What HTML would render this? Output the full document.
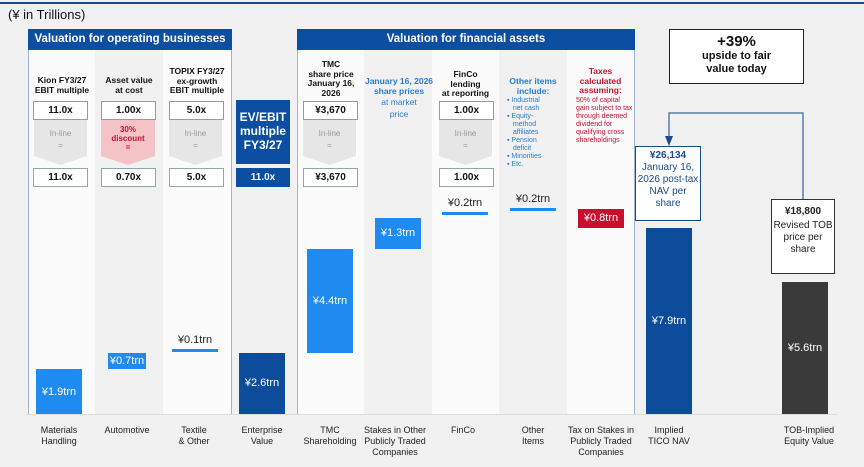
<!DOCTYPE html>
<html><head><meta charset="utf-8">
<style>
*{box-sizing:border-box;margin:0;padding:0}
body{width:864px;height:467px;background:#f1f1f1;font-family:"Liberation Sans",sans-serif;position:relative;overflow:hidden}
.a{position:absolute}
.hdr{background:#0b4ea2;color:#fff;font-weight:bold;font-size:11.5px;text-align:center;line-height:21px}
.col{position:absolute;top:50px;height:364px}
.t{position:absolute;text-align:center;font-size:8.5px;font-weight:bold;line-height:9.5px;color:#111}
.box{position:absolute;background:#fff;border:1px solid #999;font-size:10px;font-weight:bold;text-align:center;line-height:17px;height:19px;color:#111}
.chev{position:absolute;background:#e6e6e6;clip-path:polygon(0 0,100% 0,100% 80%,50% 100%,0 80%);text-align:center;font-size:8px;color:#999;padding-top:8px;line-height:12px}
.lbl{position:absolute;top:425px;font-size:9px;text-align:center;line-height:11px;color:#222;width:70px}
.vl{position:absolute;top:50px;width:1px;height:364px;background:#9db4d4}
</style></head><body>
<div class="a" style="left:0;top:2px;width:864px;height:2px;background:#1b4a8a"></div>
<div class="a" style="left:8px;top:7px;font-size:13px;color:#111">(¥ in Trillions)</div>

<div class="col" style="left:29px;width:66px;background:#fbfbfb"></div>
<div class="col" style="left:95px;width:68px;background:#f1f1f1"></div>
<div class="col" style="left:163px;width:68px;background:#fbfbfb"></div>
<div class="col" style="left:298px;width:66px;background:#fbfbfb"></div>
<div class="col" style="left:364px;width:68px;background:#f1f1f1"></div>
<div class="col" style="left:432px;width:67px;background:#fbfbfb"></div>
<div class="col" style="left:499px;width:68px;background:#f1f1f1"></div>
<div class="col" style="left:567px;width:67px;background:#fbfbfb"></div>
<div class="vl" style="left:28px"></div>
<div class="vl" style="left:231px"></div>
<div class="vl" style="left:297px"></div>
<div class="vl" style="left:634px"></div>
<div class="a" style="left:26px;top:414px;width:812px;height:1px;background:#ddd"></div>

<div class="a hdr" style="left:28px;top:29px;width:204px">Valuation for operating businesses</div>
<div class="a hdr" style="left:297px;top:29px;width:338px">Valuation for financial assets</div>

<div class="t" style="left:29px;top:76px;width:66px">Kion FY3/27<br>EBIT multiple</div>
<div class="t" style="left:95px;top:76px;width:68px">Asset value<br>at cost</div>
<div class="t" style="left:163px;top:67px;width:68px">TOPIX FY3/27<br>ex-growth<br>EBIT multiple</div>
<div class="box" style="left:33px;top:101px;width:55px">11.0x</div>
<div class="box" style="left:101px;top:101px;width:55px">1.00x</div>
<div class="box" style="left:169px;top:101px;width:55px">5.0x</div>
<div class="chev" style="left:34px;top:120px;width:53px;height:45px">In-line<br>=</div>
<div class="chev" style="left:101px;top:120px;width:54px;height:45px;background:#f4c3c6;color:#c8102e;font-weight:bold;padding-top:5px;line-height:9px">30%<br>discount<br>=</div>
<div class="chev" style="left:169px;top:120px;width:53px;height:45px">In-line<br>=</div>
<div class="box" style="left:33px;top:168px;width:55px;border-color:#8aa">11.0x</div>
<div class="box" style="left:101px;top:168px;width:55px;border-color:#8aa">0.70x</div>
<div class="box" style="left:169px;top:168px;width:55px;border-color:#8aa">5.0x</div>

<div class="a" style="left:236px;top:100px;width:54px;height:64px;background:#0b4ea2;color:#fff;font-weight:bold;font-size:12px;text-align:center;line-height:14px;padding-top:10px">EV/EBIT multiple FY3/27</div>
<div class="a" style="left:236px;top:168px;width:54px;height:19px;background:#0b4ea2;color:#fff;font-weight:bold;font-size:10px;text-align:center;line-height:19px">11.0x</div>

<div class="t" style="left:298px;top:60px;width:66px">TMC<br>share price<br>January 16,<br>2026</div>
<div class="t" style="left:364px;top:77px;width:70px;color:#2a7bd0">January 16, 2026<br>share prices<br><span style="font-weight:normal;line-height:12px">at market<br>price</span></div>
<div class="t" style="left:432px;top:70px;width:67px">FinCo<br>lending<br>at reporting</div>
<div class="t" style="left:499px;top:77px;width:68px;color:#2a7bd0">Other items<br>include:</div>
<div class="a" style="left:507px;top:97px;width:60px;font-size:7px;line-height:8px;color:#2a7bd0">▪ Industrial<br>&nbsp;&nbsp;&nbsp;net cash<br>▪ Equity-<br>&nbsp;&nbsp;&nbsp;method<br>&nbsp;&nbsp;&nbsp;affiliates<br>▪ Pension<br>&nbsp;&nbsp;&nbsp;deficit<br>▪ Minorities<br>▪ Etc.</div>
<div class="t" style="left:567px;top:67px;width:67px;color:#c8102e">Taxes<br>calculated<br>assuming:</div>
<div class="a" style="left:576px;top:97px;width:58px;font-size:7px;line-height:8px;color:#c8102e">50% of capital gain subject to tax through deemed dividend for qualifying cross shareholdings</div>
<div class="box" style="left:303px;top:101px;width:55px">¥3,670</div>
<div class="chev" style="left:303px;top:120px;width:53px;height:45px">In-line<br>=</div>
<div class="box" style="left:303px;top:168px;width:55px;border-color:#8aa">¥3,670</div>
<div class="box" style="left:439px;top:101px;width:55px">1.00x</div>
<div class="chev" style="left:439px;top:120px;width:53px;height:45px">In-line<br>=</div>
<div class="box" style="left:439px;top:168px;width:55px;border-color:#8aa">1.00x</div>

<div class="a" style="left:669px;top:29px;width:135px;height:55px;background:#fff;border:1px solid #222;text-align:center;font-weight:bold;color:#111"><div style="font-size:15px;line-height:17px;margin-top:3px">+39%</div><div style="font-size:11px;line-height:13px">upside to fair<br>value today</div></div>
<svg class="a" style="left:0;top:0" width="864" height="467">
<path d="M803 199 V113 H669 V138" fill="none" stroke="#5a7fa8" stroke-width="1.5"/>
<polygon points="665,136 673,136 669,146" fill="#1b4a8a"/>
</svg>
<div class="a" style="left:635px;top:146px;width:66px;height:75px;background:#fff;border:1px solid #1b4a8a;text-align:center;color:#1b4a8a;font-size:10px;line-height:12px"><b style="display:block;margin-top:3px">¥26,134</b>January 16, 2026 post-tax NAV per share</div>
<div class="a" style="left:771px;top:199px;width:64px;height:75px;background:#fff;border:1px solid #333;text-align:center;color:#222;font-size:10px;line-height:12px"><b style="display:block;margin-top:6px;margin-bottom:2px">¥18,800</b>Revised TOB price per share</div>

<div id="chart"></div>

<div class="lbl" style="left:24px">Materials<br>Handling</div>
<div class="lbl" style="left:92px">Automotive</div>
<div class="lbl" style="left:159px">Textile<br>&amp; Other</div>
<div class="lbl" style="left:227px">Enterprise<br>Value</div>
<div class="lbl" style="left:295px">TMC<br>Shareholding</div>
<div class="lbl" style="left:360px">Stakes in Other<br>Publicly Traded<br>Companies</div>
<div class="lbl" style="left:428px">FinCo</div>
<div class="lbl" style="left:498px">Other<br>Items</div>
<div class="lbl" style="left:566px">Tax on Stakes in<br>Publicly Traded<br>Companies</div>
<div class="lbl" style="left:634px">Implied<br>TICO NAV</div>
<div class="lbl" style="left:774px">TOB-Implied<br>Equity Value</div>

<script>
const categories=["Materials Handling","Automotive","Textile & Other","Enterprise Value","TMC Shareholding","Stakes","FinCo","Other Items","Tax","Implied TICO NAV","TOB-Implied Equity Value"];
const values=[1.9,0.7,0.1,2.6,4.4,1.3,0.2,0.2,-0.8,7.9,5.6];
const kinds=["step","step","step","total","step","step","step","step","step","total","total"];
const valueLabels=["¥1.9trn","¥0.7trn","¥0.1trn","¥2.6trn","¥4.4trn","¥1.3trn","¥0.2trn","¥0.2trn","¥0.8trn","¥7.9trn","¥5.6trn"];
const centers=[59,127,195,262,330,398,465,533,601,669,805];
const base=414, scale=23.6;
function y(v){return base-v*scale;}
const chart=document.getElementById('chart');
let cum=0;
for(let i=0;i<values.length;i++){
  let lo,hi;
  if(kinds[i]==="total"){lo=0;hi=values[i];if(i===3||i===9)cum=values[i];}
  else{lo=Math.min(cum,cum+values[i]);hi=Math.max(cum,cum+values[i]);cum+=values[i];}
  const top=y(hi),h=y(lo)-y(hi);
  const color= i===10?"#3a3a3a":(kinds[i]==="total"?"#0d4c9b":(values[i]<0?"#c8102e":"#1f8af0"));
  const el=document.createElement('div');
  
  
  el.className='a';
  const w=(i===1)?38:46;
  const thin=h<8;
  el.style.cssText=`left:${centers[i]-w/2}px;width:${w}px;top:${thin?top-1:top}px;height:${thin?3:h}px;background:${color}`;
  chart.appendChild(el);
  const t=document.createElement('div');
  
  
  t.className='a';
  t.textContent=valueLabels[i];
  const tc= thin?"#222":"#fff";
  const tt= thin?top-17:top+h/2-7;
  t.style.cssText=`left:${centers[i]-30}px;width:60px;text-align:center;top:${tt}px;font-size:11px;line-height:14px;color:${tc}`;
  chart.appendChild(t);
}
</script>
</body></html>
